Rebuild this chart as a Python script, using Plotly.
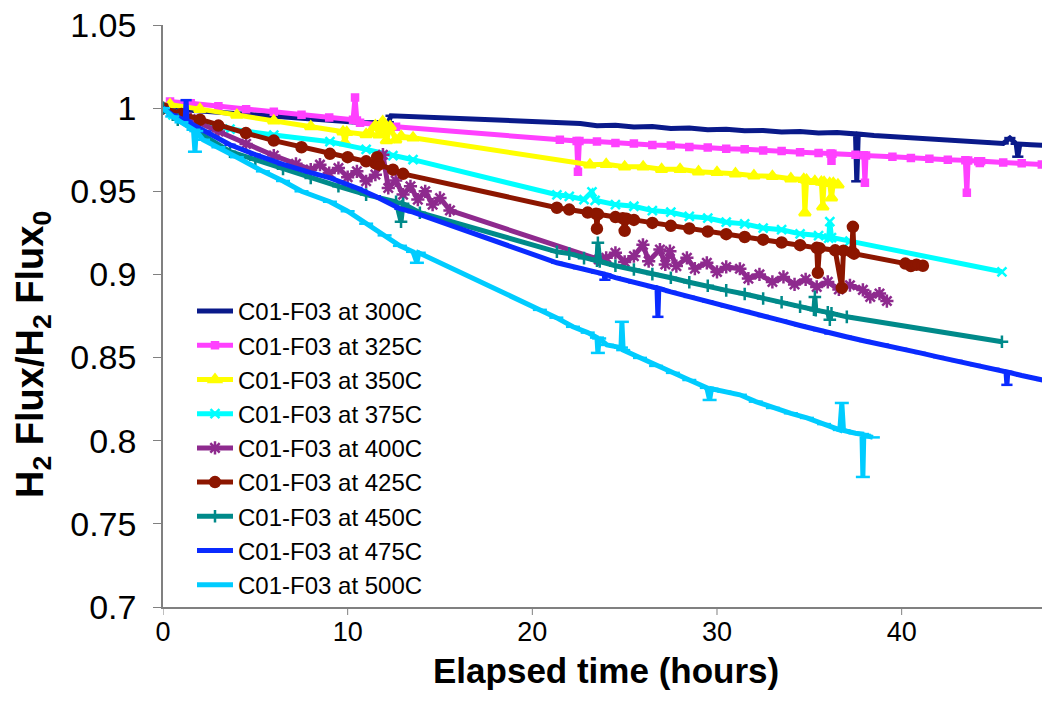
import plotly.graph_objects as go

# ---------------- data ----------------
names = ["C01-F03 at 300C", "C01-F03 at 325C", "C01-F03 at 350C", "C01-F03 at 375C",
         "C01-F03 at 400C", "C01-F03 at 425C", "C01-F03 at 450C", "C01-F03 at 475C",
         "C01-F03 at 500C"]

hours_300 = [0, 1, 3, 5, 7, 9, 10.83, 12.2, 12.35, 22.6, 23.5, 24.5, 25.5, 26.5, 27.5, 28.5,
             29.5, 30.5, 31.5, 32.5, 33.5, 34.5, 35.5, 36.5, 37.5, 37.57, 37.65, 38.5, 39.5,
             40.5, 41.5, 42.5, 43.5, 44.5, 45.5, 45.86, 46.2, 46.29, 46.4, 47.0, 47.59, 48.5]
flux_300 = [1.0, 0.9992, 0.9978, 0.9962, 0.9948, 0.9930, 0.9912, 0.9915, 0.9954, 0.9908,
            0.9894, 0.9897, 0.9886, 0.9889, 0.9878, 0.9881, 0.9870, 0.9873, 0.9864, 0.9866,
            0.9857, 0.9860, 0.9851, 0.9853, 0.9845, 0.9560, 0.9845, 0.9836, 0.9829, 0.9824,
            0.9815, 0.9811, 0.9801, 0.9797, 0.9788, 0.9820, 0.9786, 0.9708, 0.9784, 0.9780,
            0.9776, 0.9771]

hours_325 = [0, 0.38, 1.5, 3, 4.5, 6, 7.5, 9, 10.29, 10.4, 10.5, 10.67, 12.62, 21.49, 22.4,
             22.47, 22.55, 23.5, 24.5, 25.5, 26.5, 27.5, 28.5, 29.5, 30.5, 31.5, 32.5, 33.5,
             34.5, 35.5, 36.15, 36.2, 36.25, 37.5, 37.95, 38.01, 38.07, 39.5, 40.5, 41.5,
             42.5, 43.45, 43.53, 43.6, 44.15, 44.23, 44.3, 45.5, 46.5, 47.59, 48.5]
flux_325 = [1.0, 1.0040, 1.0029, 1.0011, 0.9994, 0.9978, 0.9961, 0.9944, 0.9930, 1.0064,
            0.9926, 0.9912, 0.9888, 0.9810, 0.9803, 0.9617, 0.9802, 0.9799, 0.9790, 0.9787,
            0.9779, 0.9776, 0.9767, 0.9764, 0.9756, 0.9753, 0.9745, 0.9742, 0.9734, 0.9730,
            0.9727, 0.9684, 0.9726, 0.9719, 0.9716, 0.9551, 0.9715, 0.9708, 0.9700, 0.9696,
            0.9689, 0.9686, 0.9491, 0.9685, 0.9681, 0.9670, 0.9681, 0.9673, 0.9668, 0.9661,
            0.9657]

hours_350 = [0, 0.38, 2, 4, 6, 8, 9.75, 9.85, 9.95, 11.0, 11.2, 11.5, 11.7, 11.9, 12.1, 12.3,
             12.6, 12.9, 13.54, 23.12, 24, 25, 26, 27, 28, 29, 30, 31, 32, 33, 34, 34.7,
             34.76, 34.85, 35.3, 35.65, 35.73, 35.8, 36.1, 36.2, 36.3, 36.55]
flux_350 = [1.0, 1.0022, 0.9994, 0.9959, 0.9924, 0.9889, 0.9858, 0.9792, 0.9855, 0.9842,
            0.9850, 0.9895, 0.9840, 0.9920, 0.9805, 0.9890, 0.9810, 0.9830, 0.9822, 0.9660,
            0.9662, 0.9648, 0.9648, 0.9632, 0.9632, 0.9618, 0.9614, 0.9606, 0.9594, 0.9590,
            0.9576, 0.9572, 0.9371, 0.9568, 0.9560, 0.9556, 0.9407, 0.9554, 0.9548, 0.9461,
            0.9548, 0.9539]

hours_375 = [0, 0.54, 2, 3.63, 6, 9.04, 11, 12.45, 13.54, 21.33, 22, 22.8, 23.23, 23.4, 24.5,
             25.5, 26.5, 27.5, 28.5, 29.5, 30.5, 31.5, 32.5, 33.5, 34.5, 35.5, 36.05, 36.11,
             36.2, 37.2, 45.43]
flux_375 = [1.0, 0.9960, 0.9915, 0.9874, 0.9838, 0.9798, 0.9752, 0.9715, 0.9690, 0.9479,
            0.9470, 0.9450, 0.9497, 0.9446, 0.9420, 0.9410, 0.9384, 0.9374, 0.9349, 0.9339,
            0.9314, 0.9304, 0.9279, 0.9269, 0.9244, 0.9234, 0.9218, 0.9317, 0.9222, 0.9200,
            0.9016]

hours_400 = [0, 1.5, 3, 4.5, 6, 7.2, 8, 8.5, 9, 9.5, 10, 10.5, 11, 11.5, 11.91, 12.2, 12.6,
             13, 13.4, 13.8, 14.2, 14.6, 15, 15.54, 23.6, 24, 24.5, 25, 25.5, 25.99, 26.3,
             26.91, 27.2, 27.45, 27.8, 28.37, 28.8, 29.45, 30, 30.5, 31.24, 31.7, 32.3, 33,
             33.6, 34.2, 34.8, 35.4, 36, 36.6, 37.2, 37.9, 38.3, 38.8, 39.2]
flux_400 = [1.0, 0.9935, 0.9860, 0.9785, 0.9715, 0.9665, 0.9630, 0.9660, 0.9610, 0.9640,
            0.9585, 0.9620, 0.9560, 0.9600, 0.9720, 0.9520, 0.9565, 0.9480, 0.9530, 0.9450,
            0.9500, 0.9420, 0.9460, 0.9385, 0.9090, 0.9100, 0.9130, 0.9075, 0.9110, 0.9178,
            0.9080, 0.9150, 0.9060, 0.9140, 0.9050, 0.9100, 0.9035, 0.9070, 0.9015, 0.9045,
            0.9034, 0.8975, 0.9000, 0.8955, 0.8985, 0.8940, 0.8970, 0.8925, 0.8955, 0.8910,
            0.8935, 0.8907, 0.8865, 0.8885, 0.8840]

hours_425 = [0, 1, 2, 3, 4.49, 6, 7.5, 9.04, 10, 11, 11.5, 11.6, 11.7, 12.45, 13.0, 21.33, 22,
             23, 23.45, 23.5, 23.55, 24.5, 24.9, 25.0, 25.1, 25.5, 26.5, 27.5, 28.5, 29.5,
             30.5, 31.5, 32.5, 33.5, 34.5, 35.4, 35.46, 35.55, 36.4, 36.76, 36.85, 37.3,
             37.36, 37.42, 40.2, 40.5, 40.8, 41.15]
flux_425 = [1.0, 0.9965, 0.9930, 0.9895, 0.9850, 0.9805, 0.9765, 0.9725, 0.9705, 0.9680,
            0.9668, 0.9705, 0.9660, 0.9630, 0.9605, 0.9401, 0.9390, 0.9372, 0.9365, 0.9275,
            0.9362, 0.9345, 0.9338, 0.9262, 0.9335, 0.9328, 0.9310, 0.9292, 0.9276, 0.9258,
            0.9242, 0.9225, 0.9209, 0.9192, 0.9176, 0.9160, 0.9010, 0.9158, 0.9145, 0.8919,
            0.9143, 0.9135, 0.9286, 0.9125, 0.9065, 0.9050, 0.9058, 0.9052]

hours_450 = [0, 0.8, 2, 3.63, 5, 6.5, 8, 9.5, 11, 12.62, 12.89, 13.0, 13.91, 21.33, 22, 22.8,
             23.5, 23.55, 23.65, 24.5, 25.5, 26.5, 27.5, 28.5, 29.5, 30.5, 31.5, 32.5, 33.5,
             34.5, 35.25, 35.3, 35.35, 36.0, 36.11, 36.2, 37.03, 45.43]
flux_450 = [1.0, 0.9930, 0.9850, 0.9738, 0.9690, 0.9635, 0.9580, 0.9530, 0.9480, 0.9437,
            0.9317, 0.9425, 0.9371, 0.9136, 0.9125, 0.9098, 0.9082, 0.9190, 0.9078, 0.9052,
            0.9030, 0.9002, 0.8980, 0.8953, 0.8932, 0.8904, 0.8882, 0.8855, 0.8833, 0.8806,
            0.8788, 0.8865, 0.8785, 0.8772, 0.8727, 0.8766, 0.8745, 0.8595]

hours_475 = [0, 0.5, 1.2, 1.25, 1.3, 2.33, 3.63, 5, 6.5, 8, 9.04, 10.5, 11.5, 12.83, 13.54,
             21.33, 22.5, 23.5, 23.88, 23.93, 23.98, 24.5, 25.5, 26.5, 26.75, 26.8, 26.85,
             27.5, 28.5, 29.5, 30.5, 31.5, 32.5, 33.5, 34.5, 35.5, 36.11, 37, 38, 39, 40, 41,
             42, 43, 44, 45, 45.65, 45.7, 45.75, 46.5, 47.59, 48.5]
flux_475 = [1.0, 0.9960, 0.9925, 1.0048, 0.9920, 0.9860, 0.9780, 0.9720, 0.9662, 0.9612,
            0.9581, 0.9520, 0.9470, 0.9395, 0.9375, 0.9070, 0.9038, 0.9010, 0.9002, 0.8968,
            0.9000, 0.8981, 0.8952, 0.8925, 0.8918, 0.8745, 0.8916, 0.8895, 0.8865, 0.8838,
            0.8808, 0.8780, 0.8750, 0.8722, 0.8693, 0.8665, 0.8645, 0.8625, 0.8600, 0.8578,
            0.8552, 0.8528, 0.8503, 0.8480, 0.8455, 0.8432, 0.8415, 0.8336, 0.8413, 0.8392,
            0.8366, 0.8345]

hours_500 = [0, 0.5, 1.0, 1.65, 1.73, 1.8, 2.17, 3, 4, 5.41, 6.5, 7.5, 9.04, 10, 11, 12,
             12.83, 13.54, 13.75, 13.85, 20.41, 21.3, 22.2, 23.0, 23.5, 23.55, 23.62, 24.04,
             24.8, 24.85, 24.92, 25.83, 26.7, 27.61, 28.5, 29.45, 29.6, 29.7, 30.4, 31.24,
             32.1, 33.03, 34.0, 34.87, 35.8, 36.65, 36.76, 36.85, 37.5, 37.85, 37.9, 37.95,
             38.44]
flux_500 = [1.0, 0.9950, 0.9915, 0.9870, 0.9738, 0.9862, 0.9810, 0.9765, 0.9705, 0.9620,
            0.9562, 0.9500, 0.9437, 0.9380, 0.9305, 0.9235, 0.9172, 0.9136, 0.9070, 0.9130,
            0.8787, 0.8740, 0.8685, 0.8650, 0.8620, 0.8528, 0.8615, 0.8576, 0.8560, 0.8715,
            0.8545, 0.8498, 0.8450, 0.8408, 0.8365, 0.8318, 0.8245, 0.8312, 0.8295, 0.8276,
            0.8235, 0.8197, 0.8165, 0.8137, 0.8100, 0.8065, 0.8227, 0.8062, 0.8045, 0.8040,
            0.7782, 0.8035, 0.8020]

x_ticks = [0, 10, 20, 30, 40]
y_tick_values = [0.7, 0.75, 0.8, 0.85, 0.9, 0.95, 1.0, 1.05]
y_tick_labels = ["0.7", "0.75", "0.8", "0.85", "0.9", "0.95", "1", "1.05"]

# ---------------- styles ----------------
colors = ["#0A1A8A", "#FF40FF", "#FFFF00", "#00FFFF", "#8E2A8E",
          "#8C1600", "#008A8A", "#0A2BFF", "#00CCFF"]
symbols = ["line-ew", "square", "triangle-up", "x-thin", "asterisk",
           "circle", "cross-thin", "line-ew", "line-ew"]
sizes = [8, 6, 10, 9, 11, 10, 9, 8, 10]

all_hours = [hours_300, hours_325, hours_350, hours_375, hours_400,
             hours_425, hours_450, hours_475, hours_500]
all_flux = [flux_300, flux_325, flux_350, flux_375, flux_400,
            flux_425, flux_450, flux_475, flux_500]

FONT = "Liberation Sans, Arial, sans-serif"
AXIS_GREY = "#808080"

fig = go.Figure()
for name, h, v, c, s, sz in zip(names, all_hours, all_flux, colors, symbols, sizes):
    fig.add_trace(go.Scatter(
        x=h, y=v, mode="lines+markers", name=name, legendgroup=name,
        line=dict(color=c, width=5),
        marker=dict(symbol=s, size=sz, color=c, line=dict(color=c, width=2.5)),
    ))

W, H = 1042, 721
L, R, T, B = 163, 0, 25, 114
pw, ph = W - L - R, H - T - B

# outside tick marks for the x axis (drawn as short strokes under the axis)
tick_shapes = [dict(type="line", xref="x", yref="paper", x0=t, x1=t, y0=0, y1=-8 / ph,
                    line=dict(color=AXIS_GREY, width=1), layer="below")
               for t in x_ticks]

fig.update_layout(
    width=W, height=H,
    margin=dict(l=L, r=R, t=T, b=B, pad=0),
    paper_bgcolor="white", plot_bgcolor="white",
    font=dict(family=FONT, color="black"),
    showlegend=True,
    legend=dict(x=(192 - L) / pw, y=(H - B - 289) / ph, xanchor="left", yanchor="top",
                bgcolor="rgba(0,0,0,0)", font=dict(size=24, family=FONT, color="black"),
                tracegroupgap=0, itemwidth=36),
    xaxis=dict(range=[0, 47.6], tickvals=x_ticks, showgrid=False, zeroline=False,
               showline=True, linecolor=AXIS_GREY, linewidth=1.5,
               ticks="", tickfont=dict(size=27, family=FONT, color="black")),
    yaxis=dict(range=[0.7, 1.05], tickvals=y_tick_values, ticktext=y_tick_labels,
               showgrid=False, zeroline=False,
               showline=True, linecolor=AXIS_GREY, linewidth=1.5,
               ticks="outside", ticklen=8, tickcolor=AXIS_GREY, tickwidth=1,
               tickfont=dict(size=34, family=FONT, color="black"), ticklabelstandoff=10),
    shapes=tick_shapes,
    annotations=[
        dict(text="<b>Elapsed time (hours)</b>", xref="paper", yref="paper",
             x=(606 - L) / pw, y=-(670 - (H - B)) / ph, xanchor="center", yanchor="middle",
             showarrow=False, font=dict(size=35, family=FONT, color="black")),
        dict(text="<b>H<sub>2</sub> Flux/H<sub>2</sub> Flux<sub>0</sub></b>",
             xref="paper", yref="paper", textangle=-90,
             x=(33 - L) / pw, y=((H - B) - 355) / ph, xanchor="center", yanchor="middle",
             showarrow=False, font=dict(size=38, family=FONT, color="black")),
    ],
)

fig.write_html("out.html")
